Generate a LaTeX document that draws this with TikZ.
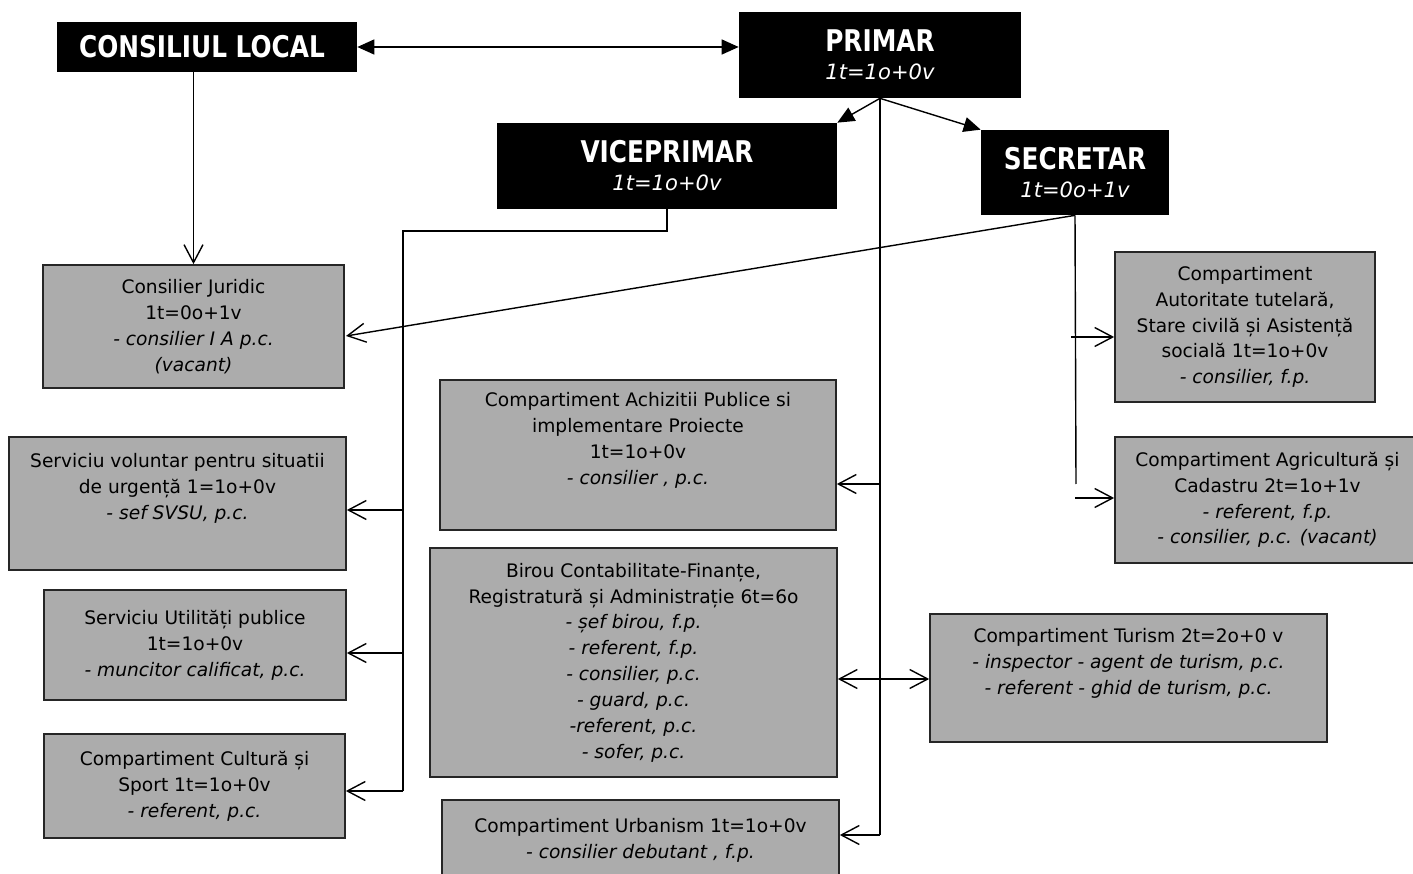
\documentclass[tikz,border=0pt]{standalone}
\usepackage{fontspec}
\setmainfont{DejaVu Sans}
\newfontfamily\titlefont[FakeStretch=0.83]{DejaVu Sans}
\usetikzlibrary{arrows.meta}
\tikzstyle{chief}=[fill=black,text=white,inner sep=0pt,align=center,font=\titlefont\bfseries\fontsize{17}{16}\selectfont]
\tikzstyle{office}=[draw=black!85,line width=1pt,fill=gray!65,inner sep=0pt,align=center,font=\fontsize{10.6}{14.7}\selectfont]
\tikzstyle{link}=[draw,line width=0.8pt]
\tikzstyle{boss arrow}=[link,-{Triangle[length=0.34cm,width=0.3cm]}]
\tikzstyle{office arrow}=[link,-{Straight Barb[length=0.36cm,width=0.38cm]}]
\newcommand{\staff}[1]{{\normalfont\mdseries\itshape\fontsize{12}{16}\selectfont #1}}

\begin{document}
\begin{tikzpicture}[x=0.02cm,y=-0.02cm]
    \useasboundingbox (0,0) rectangle (1413,874);
    % Leadership, black boxes
    \node[chief,minimum width=6cm,minimum height=1cm] (consiliu) at (207,47) {\hspace*{-0.2cm}CONSILIUL LOCAL};
    \node[chief,minimum width=5.64cm,minimum height=1.72cm] (primar) at (880,55) {PRIMAR\\\staff{1t=1o+0v}};
    \node[chief,minimum width=6.8cm,minimum height=1.72cm] (viceprimar) at (667,166) {VICEPRIMAR\\\staff{1t=1o+0v}};
    \node[chief,minimum width=3.76cm,minimum height=1.7cm] (secretar) at (1075,172.5) {SECRETAR\\\staff{1t=0o+1v}};

    % Offices, gray boxes
    \node[office,minimum width=6.02cm,minimum height=2.46cm] (juridic) at (193.5,326.5)
        {Consilier Juridic\\1t=0o+1v\\\textit{- consilier I A p.c.}\\\textit{(vacant)}};
    \node[office,minimum width=6.74cm,minimum height=2.66cm] (svsu) at (177.5,503.5)
        {Serviciu voluntar pentru situatii\\de urgență 1=1o+0v\\\textit{- sef SVSU, p.c.}\\\strut};
    \node[office,minimum width=6.04cm,minimum height=2.2cm] (utilitati) at (195,645)
        {Serviciu Utilități publice\\1t=1o+0v\\\textit{- muncitor calificat, p.c.}};
    \node[office,minimum width=6.02cm,minimum height=2.08cm] (cultura) at (194.5,786)
        {Compartiment Cultură și\\Sport 1t=1o+0v\\\textit{- referent, p.c.}};
    \node[office,minimum width=7.92cm,minimum height=3cm] (achizitii) at (638,455)
        {Compartiment Achizitii Publice si\\implementare Proiecte\\1t=1o+0v\\\textit{- consilier , p.c.}\\\strut};
    \node[office,minimum width=8.14cm,minimum height=4.58cm] (birou) at (633.5,662.5)
        {Birou Contabilitate-Finanțe,\\Registratură și Administrație 6t=6o\\\textit{- șef birou, f.p.}\\\textit{- referent, f.p.}\\
         \textit{- consilier, p.c.}\\\textit{- guard, p.c.}\\\textit{-referent, p.c.}\\\textit{- sofer, p.c.}};
    \node[office,minimum width=7.94cm,minimum height=1.6cm] (urbanism) at (640.5,840)
        {Compartiment Urbanism 1t=1o+0v\\\textit{- consilier debutant , f.p.}};
    \node[office,minimum width=5.2cm,minimum height=3cm] (autoritate) at (1245,327)
        {Compartiment\\Autoritate tutelară,\\Stare civilă și Asistență\\socială 1t=1o+0v\\\textit{- consilier, f.p.}};
    \node[office,minimum width=6.1cm,minimum height=2.52cm] (agricultura) at (1267.5,500)
        {Compartiment Agricultură și\\Cadastru 2t=1o+1v\\\textit{- referent, f.p.}\\\textit{- consilier, p.c. (vacant)}};
    \node[office,minimum width=7.94cm,minimum height=2.56cm] (turism) at (1128.5,678)
        {Compartiment Turism 2t=2o+0 v\\\textit{- inspector - agent de turism, p.c.}\\\textit{- referent - ghid de turism, p.c.}\\\strut};

    % Turning points of the lines
    \coordinate (pa) at (880,484);
    \coordinate (pb) at (880,679);
    \coordinate (pc) at (880,835);
    \coordinate (vtop) at (403,231);
    \coordinate (va) at (403,510);
    \coordinate (vb) at (403,653);
    \coordinate (vc) at (403,791);
    \coordinate (sj) at (346,336);
    \coordinate (sa) at (1071,337);
    \coordinate (sb) at (1075,498);
    \coordinate (send) at (1076,484);

    % Connections
    \draw[link,{Triangle[length=0.34cm,width=0.3cm]}-{Triangle[length=0.34cm,width=0.3cm]}] (consiliu.east) -- (consiliu.east -| primar.west);
    \draw[office arrow] (juridic.north |- consiliu.south) -- (juridic.north);
    \foreach \dest/\tip in {viceprimar/north east, secretar/north west}
        \draw[boss arrow] (primar.south) -- (\dest.\tip);
    \draw[link] (primar.south) -- (pc);
    \foreach \pt/\dest in {pa/achizitii, pb/birou, pc/urbanism}
        \draw[office arrow] (\pt) -- (\pt -| \dest.east);
    \draw[office arrow] (pb) -- (pb -| turism.west);
    \draw[link] (viceprimar.south) |- (vtop) -- (vc);
    \foreach \pt/\dest in {va/svsu, vb/utilitati, vc/cultura}
        \draw[office arrow] (\pt) -- (\pt -| \dest.east);
    \draw[office arrow] (secretar.south) -- (sj);
    \draw[link] (secretar.south) -- (send);
    \foreach \pt/\dest in {sa/autoritate, sb/agricultura}
        \draw[office arrow] (\pt) -- (\pt -| \dest.west);
\end{tikzpicture}
\end{document}
